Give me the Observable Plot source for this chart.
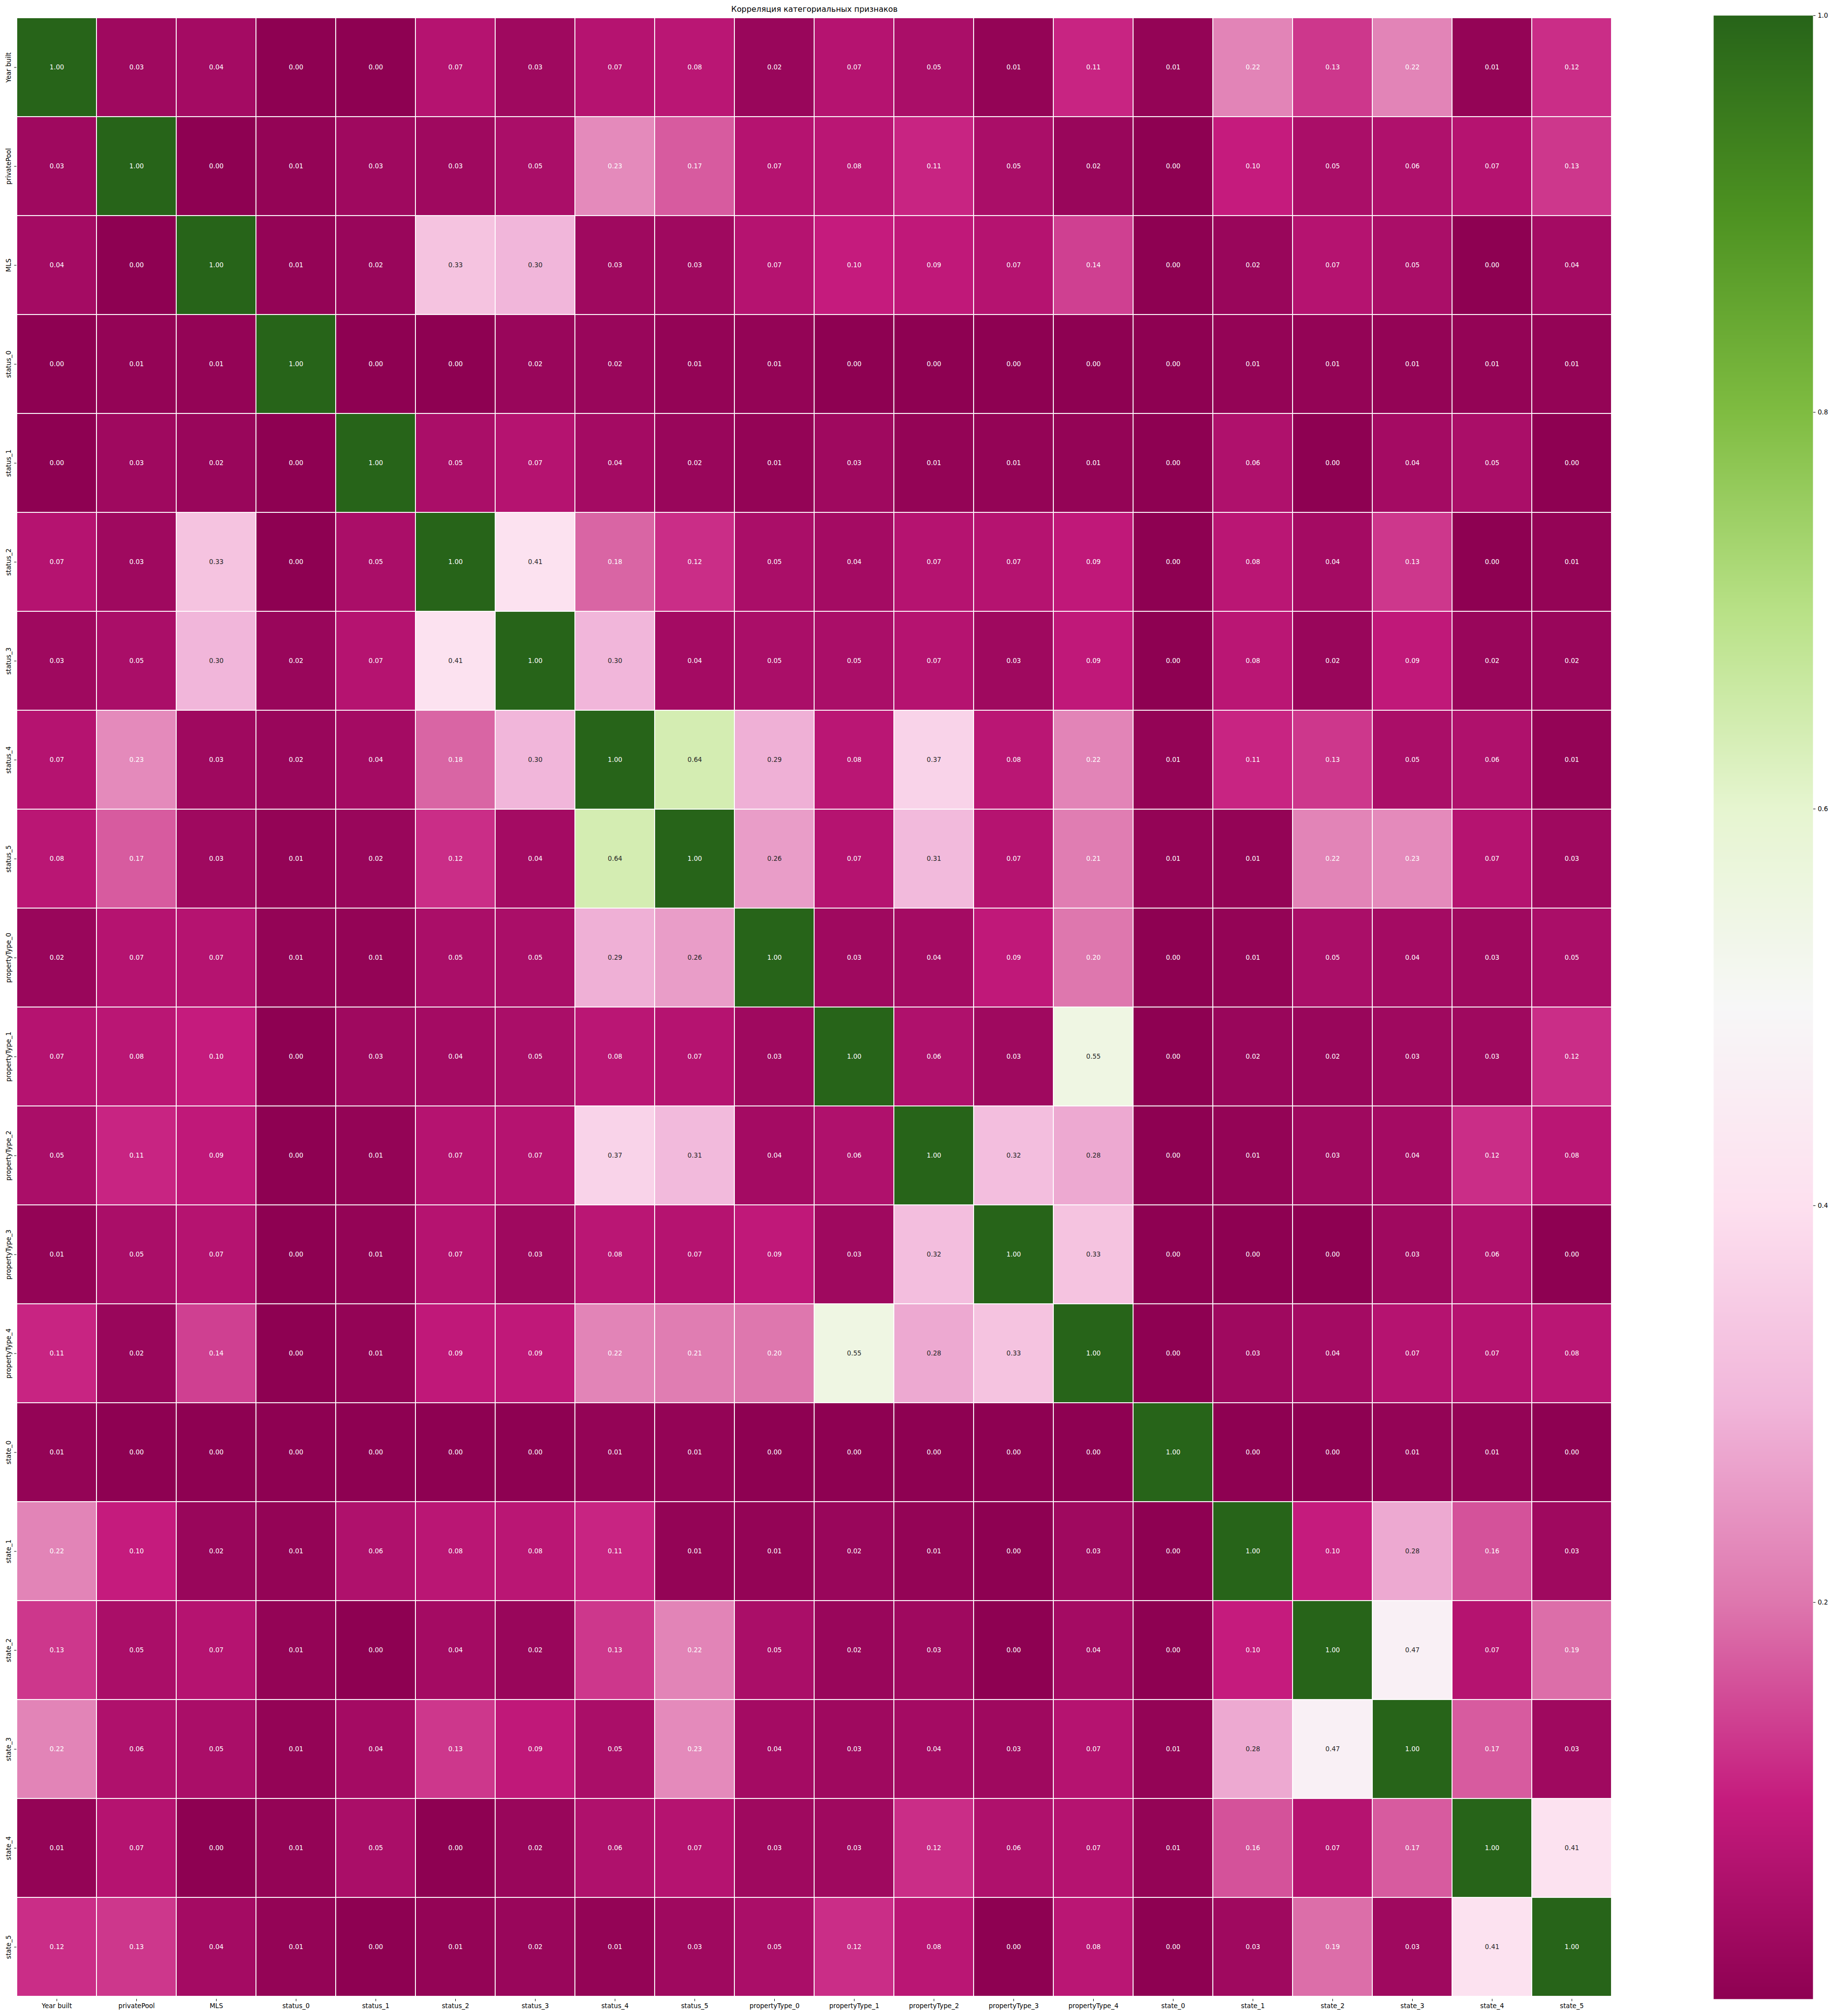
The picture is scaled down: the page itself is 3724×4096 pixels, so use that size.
<!DOCTYPE html>
<html><head><meta charset="utf-8">
<script src="https://cdn.jsdelivr.net/npm/d3@7"></script>
<script src="https://cdn.jsdelivr.net/npm/@observablehq/plot@0.6"></script>
<style>
html,body{margin:0;padding:0;background:#fff;}
#chart{position:relative;width:3724px;height:4096px;overflow:hidden;}
#chart > svg{position:absolute;top:0;}
</style></head><body><div id="chart"></div>
<script>
const title = "Корреляция категориальных признаков";
const labels = ["Year built","privatePool","MLS","status_0","status_1","status_2","status_3","status_4","status_5",
  "propertyType_0","propertyType_1","propertyType_2","propertyType_3","propertyType_4",
  "state_0","state_1","state_2","state_3","state_4","state_5"];

const rowYearBuilt     = [1.00,0.03,0.04,0.00,0.00,0.07,0.03,0.07,0.08,0.02,0.07,0.05,0.01,0.11,0.01,0.22,0.13,0.22,0.01,0.12];
const rowPrivatePool   = [0.03,1.00,0.00,0.01,0.03,0.03,0.05,0.23,0.17,0.07,0.08,0.11,0.05,0.02,0.00,0.10,0.05,0.06,0.07,0.13];
const rowMLS           = [0.04,0.00,1.00,0.01,0.02,0.33,0.30,0.03,0.03,0.07,0.10,0.09,0.07,0.14,0.00,0.02,0.07,0.05,0.00,0.04];
const rowStatus0       = [0.00,0.01,0.01,1.00,0.00,0.00,0.02,0.02,0.01,0.01,0.00,0.00,0.00,0.00,0.00,0.01,0.01,0.01,0.01,0.01];
const rowStatus1       = [0.00,0.03,0.02,0.00,1.00,0.05,0.07,0.04,0.02,0.01,0.03,0.01,0.01,0.01,0.00,0.06,0.00,0.04,0.05,0.00];
const rowStatus2       = [0.07,0.03,0.33,0.00,0.05,1.00,0.41,0.18,0.12,0.05,0.04,0.07,0.07,0.09,0.00,0.08,0.04,0.13,0.00,0.01];
const rowStatus3       = [0.03,0.05,0.30,0.02,0.07,0.41,1.00,0.30,0.04,0.05,0.05,0.07,0.03,0.09,0.00,0.08,0.02,0.09,0.02,0.02];
const rowStatus4       = [0.07,0.23,0.03,0.02,0.04,0.18,0.30,1.00,0.64,0.29,0.08,0.37,0.08,0.22,0.01,0.11,0.13,0.05,0.06,0.01];
const rowStatus5       = [0.08,0.17,0.03,0.01,0.02,0.12,0.04,0.64,1.00,0.26,0.07,0.31,0.07,0.21,0.01,0.01,0.22,0.23,0.07,0.03];
const rowPropertyType0 = [0.02,0.07,0.07,0.01,0.01,0.05,0.05,0.29,0.26,1.00,0.03,0.04,0.09,0.20,0.00,0.01,0.05,0.04,0.03,0.05];
const rowPropertyType1 = [0.07,0.08,0.10,0.00,0.03,0.04,0.05,0.08,0.07,0.03,1.00,0.06,0.03,0.55,0.00,0.02,0.02,0.03,0.03,0.12];
const rowPropertyType2 = [0.05,0.11,0.09,0.00,0.01,0.07,0.07,0.37,0.31,0.04,0.06,1.00,0.32,0.28,0.00,0.01,0.03,0.04,0.12,0.08];
const rowPropertyType3 = [0.01,0.05,0.07,0.00,0.01,0.07,0.03,0.08,0.07,0.09,0.03,0.32,1.00,0.33,0.00,0.00,0.00,0.03,0.06,0.00];
const rowPropertyType4 = [0.11,0.02,0.14,0.00,0.01,0.09,0.09,0.22,0.21,0.20,0.55,0.28,0.33,1.00,0.00,0.03,0.04,0.07,0.07,0.08];
const rowState0        = [0.01,0.00,0.00,0.00,0.00,0.00,0.00,0.01,0.01,0.00,0.00,0.00,0.00,0.00,1.00,0.00,0.00,0.01,0.01,0.00];
const rowState1        = [0.22,0.10,0.02,0.01,0.06,0.08,0.08,0.11,0.01,0.01,0.02,0.01,0.00,0.03,0.00,1.00,0.10,0.28,0.16,0.03];
const rowState2        = [0.13,0.05,0.07,0.01,0.00,0.04,0.02,0.13,0.22,0.05,0.02,0.03,0.00,0.04,0.00,0.10,1.00,0.47,0.07,0.19];
const rowState3        = [0.22,0.06,0.05,0.01,0.04,0.13,0.09,0.05,0.23,0.04,0.03,0.04,0.03,0.07,0.01,0.28,0.47,1.00,0.17,0.03];
const rowState4        = [0.01,0.07,0.00,0.01,0.05,0.00,0.02,0.06,0.07,0.03,0.03,0.12,0.06,0.07,0.01,0.16,0.07,0.17,1.00,0.41];
const rowState5        = [0.12,0.13,0.04,0.01,0.00,0.01,0.02,0.01,0.03,0.05,0.12,0.08,0.00,0.08,0.00,0.03,0.19,0.03,0.41,1.00];

const colorStops = [0,0.1,0.2,0.3,0.4,0.5,0.6,0.7,0.8,0.9,1.0];
const piyg = ["#8e0152","#c51b7d","#de77ae","#f1b6da","#fde0ef","#f7f7f7","#e6f5d0","#b8e186","#7fbc41","#4d9221","#276419"];
const colorbarTicks = [0.2,0.4,0.6,0.8,1.0];

const rows = [rowYearBuilt,rowPrivatePool,rowMLS,rowStatus0,rowStatus1,rowStatus2,rowStatus3,rowStatus4,rowStatus5,
  rowPropertyType0,rowPropertyType1,rowPropertyType2,rowPropertyType3,rowPropertyType4,
  rowState0,rowState1,rowState2,rowState3,rowState4,rowState5];

const cells = [];
labels.forEach((r, i) => labels.forEach((c, j) => cells.push({row: r, col: c, value: rows[i][j]})));

const cscale = d3.scaleLinear().domain(colorStops).range(piyg).interpolate(d3.interpolateRgb).clamp(true);
function luminance(color) {
  const {r, g, b} = d3.rgb(color);
  const f = v => { v /= 255; return v <= 0.03928 ? v / 12.92 : Math.pow((v + 0.055) / 1.055, 2.4); };
  return 0.2126 * f(r) + 0.7152 * f(g) + 0.0722 * f(b);
}
const isLight = d => luminance(cscale(d.value)) > 0.408;

const s = 0.952;
const W = 3724, H = 4096;
const mTop = 32.7 * s, mLeft = 35 * s;
const heatRight = 3440 * s, heatBottom = 4266 * s;
const cbLeft = 3657 * s, cbRight = 3869 * s;
const fs = 13.2;
const colorOpts = {type: "linear", domain: colorStops, range: piyg, interpolate: "rgb", clamp: true};

const heat = Plot.plot({
  width: W, height: H,
  marginTop: mTop, marginLeft: mLeft, marginRight: W - heatRight, marginBottom: H - heatBottom,
  style: {fontFamily: "DejaVu Sans", fontSize: fs + "px", background: "transparent", color: "black", overflow: "visible"},
  x: {type: "band", domain: labels, padding: 0, label: null},
  y: {type: "band", domain: labels, padding: 0, label: null},
  color: colorOpts,
  marks: [
    Plot.cell(cells, {x: "col", y: "row", fill: "value", inset: 0.95}),
    Plot.text(cells, {filter: d => !isLight(d), x: "col", y: "row", text: d => d.value.toFixed(2), fill: "white", fontSize: fs}),
    Plot.text(cells, {filter: d => isLight(d), x: "col", y: "row", text: d => d.value.toFixed(2), fill: "#262626", fontSize: fs}),
    Plot.axisX({anchor: "bottom", tickSize: 4.6, tickPadding: 4.6, fontSize: fs, label: null}),
    Plot.axisY({anchor: "left", tickSize: 4.6, tickPadding: 7.7, tickRotate: -90, fontSize: fs, label: null}),
    Plot.text([title], {text: d => d, frameAnchor: "top", dy: 23.4 - mTop, lineAnchor: "bottom", fontSize: 15.9, fill: "black"})
  ]
});
heat.style.left = "0px";

const cbW = W - cbLeft;
const cbar = Plot.plot({
  width: cbW, height: H,
  marginTop: mTop, marginLeft: 0, marginRight: cbW - (cbRight - cbLeft), marginBottom: H - heatBottom,
  style: {fontFamily: "DejaVu Sans", fontSize: fs + "px", background: "transparent", color: "black", overflow: "visible"},
  x: {domain: [0, 1], axis: null},
  y: {domain: [0, 1], axis: null},
  color: colorOpts,
  marks: [
    Plot.raster({fill: (x, y) => y, x1: 0, x2: 1, y1: 0, y2: 1, pixelSize: 1, imageRendering: "auto"}),
    Plot.axisY(colorbarTicks, {anchor: "right", tickSize: 4.6, tickPadding: 5, fontSize: fs, tickFormat: d3.format(".1f"), label: null})
  ]
});
cbar.style.left = cbLeft + "px";

const chart = document.getElementById("chart");
chart.appendChild(heat);
chart.appendChild(cbar);
</script>
</body></html>
